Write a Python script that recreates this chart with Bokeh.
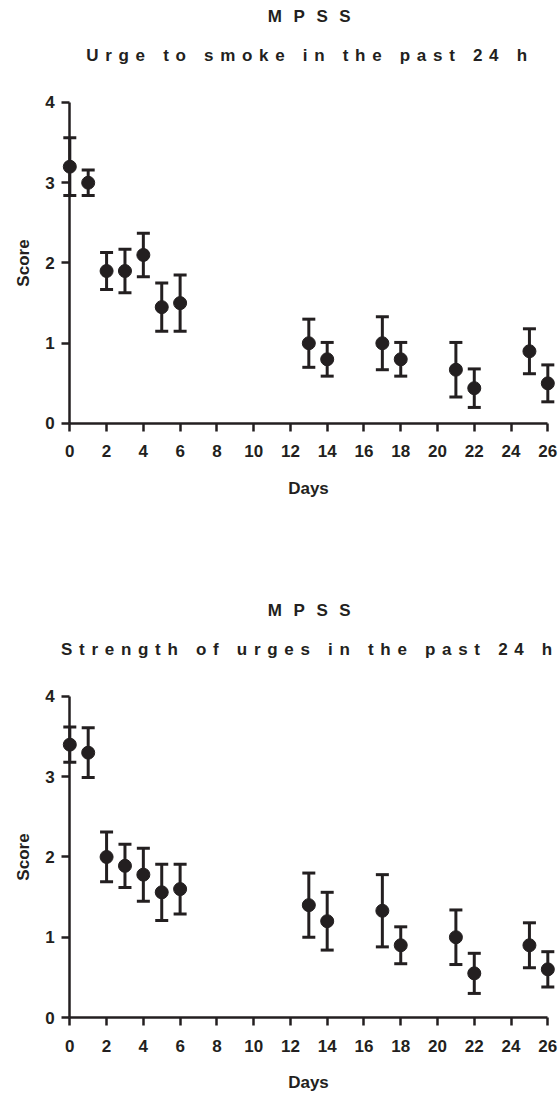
from bokeh.plotting import figure
from bokeh.models import (ColumnDataSource, Whisker, TeeHead, Range1d,
                          FixedTicker, Div)
from bokeh.layouts import column
from bokeh.embed import file_html
from bokeh.resources import INLINE

# Study days on which the MPSS was administered
days = [0, 1, 2, 3, 4, 5, 6, 13, 14, 17, 18, 21, 22, 25, 26]

# Urge to smoke in the past 24 h (mean and SEM)
urge_mean = [3.2, 3.0, 1.9, 1.9, 2.1, 1.45, 1.5, 1.0, 0.8, 1.0, 0.8, 0.67, 0.44, 0.9, 0.5]
urge_sem = [0.36, 0.16, 0.23, 0.27, 0.27, 0.30, 0.35, 0.30, 0.21, 0.33, 0.21, 0.34, 0.24, 0.28, 0.23]

# Strength of urges in the past 24 h (mean and SEM)
strength_mean = [3.4, 3.3, 2.0, 1.89, 1.78, 1.56, 1.6, 1.4, 1.2, 1.33, 0.9, 1.0, 0.55, 0.9, 0.6]
strength_sem = [0.22, 0.31, 0.31, 0.27, 0.33, 0.35, 0.31, 0.40, 0.36, 0.45, 0.23, 0.34, 0.25, 0.28, 0.22]

x_ticks = list(range(0, 27, 2))
y_ticks = [0, 1, 2, 3, 4]

INK = "#231f20"
FONT = "Liberation Sans"


def title_block(line1, line2):
    html = (
        f'<div style="width:560px;height:80px;font-family:\'{FONT}\',Arial,sans-serif;'
        f'font-weight:bold;font-size:17px;color:{INK};padding-top:7px;box-sizing:border-box;">'
        f'<div style="height:20px;line-height:20px;text-align:center;padding-left:70px;'
        f'letter-spacing:11.6px;white-space:nowrap;">{line1}</div>'
        f'<div style="height:20px;line-height:20px;margin-top:19px;text-align:center;'
        f'padding-left:60px;letter-spacing:6.7px;white-space:nowrap;">{line2}</div>'
        f'</div>'
    )
    return Div(text=html, width=560, height=80, margin=0)


def panel(means, sems, height, y_start):
    lower = [m - s for m, s in zip(means, sems)]
    upper = [m + s for m, s in zip(means, sems)]
    src = ColumnDataSource(dict(day=days, mean=means, lower=lower, upper=upper))

    # the frame fills the whole figure; both axes are pinned at zero
    p = figure(width=560, height=height,
               x_range=Range1d(-3.77, 26.69), y_range=Range1d(y_start, 4.274),
               output_backend="svg", toolbar_location=None,
               min_border_left=0, min_border_right=0,
               min_border_top=0, min_border_bottom=0,
               margin=0)
    p.outline_line_color = None
    p.grid.visible = False
    p.background_fill_color = "white"

    err = Whisker(base="day", lower="lower", upper="upper", source=src,
                  line_color=INK, line_width=3,
                  upper_head=TeeHead(size=13, line_color=INK, line_width=3),
                  lower_head=TeeHead(size=13, line_color=INK, line_width=3))
    p.add_layout(err)
    p.scatter("day", "mean", source=src, size=13, marker="circle",
              fill_color=INK, line_color=INK)

    for ax in (p.xaxis[0], p.yaxis[0]):
        ax.axis_line_color = INK
        ax.axis_line_width = 2.5
        ax.major_tick_line_color = INK
        ax.major_tick_line_width = 2.5
        ax.major_tick_in = 0
        ax.major_tick_out = 8
        ax.minor_tick_line_color = None
        ax.major_label_text_font = FONT
        ax.major_label_text_font_style = "bold"
        ax.major_label_text_font_size = "17px"
        ax.major_label_text_color = INK
        ax.axis_label_text_font = FONT
        ax.axis_label_text_font_style = "bold"
        ax.axis_label_text_font_size = "17px"
        ax.axis_label_text_color = INK

    xa = p.xaxis[0]
    xa.ticker = FixedTicker(ticks=x_ticks)
    xa.bounds = (0, 26)
    xa.fixed_location = 0
    xa.axis_label = "Days"
    xa.major_label_standoff = 14
    xa.axis_label_standoff = 18

    ya = p.yaxis[0]
    ya.ticker = FixedTicker(ticks=y_ticks)
    ya.bounds = (0, 4)
    ya.fixed_location = 0
    ya.axis_label = "Score"
    ya.major_label_standoff = 7
    ya.axis_label_standoff = 9
    return p


top = panel(urge_mean, urge_sem, 514, -2.131)
bottom = panel(strength_mean, strength_sem, 419, -0.947)

layout = column(
    title_block("MPSS", "Urge to smoke in the past 24 h"),
    top,
    title_block("MPSS", "Strength of urges in the past 24 h"),
    bottom,
    spacing=0, margin=0,
)

with open("out.html", "w") as f:
    f.write(file_html(layout, INLINE))
